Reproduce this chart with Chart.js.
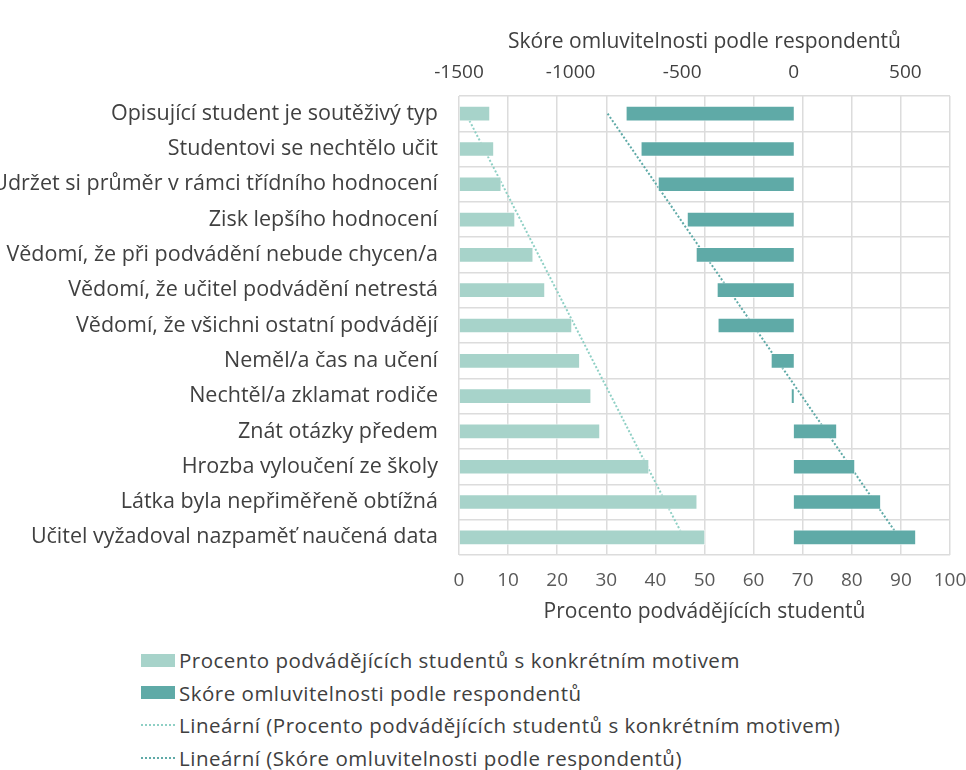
<!DOCTYPE html>
<html>
<head>
<meta charset="utf-8">
<script src="https://cdn.jsdelivr.net/npm/chart.js@4"></script>
<style>
  body { margin: 0; background: #fff; font-family: "Open Sans", sans-serif; }
  #wrap { position: relative; width: 966px; height: 628px; }
  #legend { position: absolute; left: 141px; top: 644px; color: #404040; font-size: 20.5px; letter-spacing: 0.5px; }
  .item { display: flex; align-items: center; height: 32.5px; white-space: nowrap; }
  .box { width: 34px; height: 13px; margin-right: 4px; }
  .dots { width: 34px; height: 0; border-top: 2px dotted; margin-right: 4px; }
</style>
</head>
<body>
<div id="wrap"><canvas id="chart"></canvas></div>
<div id="legend">
  <div class="item"><span class="box" style="background:#a7d3ca"></span>Procento podvádějících studentů s konkrétním motivem</div>
  <div class="item"><span class="box" style="background:#5faaa7"></span>Skóre omluvitelnosti podle respondentů</div>
  <div class="item"><span class="dots" style="border-color:#8fd0c5"></span>Lineární (Procento podvádějících studentů s konkrétním motivem)</div>
  <div class="item"><span class="dots" style="border-color:#5faaa7"></span>Lineární (Skóre omluvitelnosti podle respondentů)</div>
</div>
<script>
var categories = [
  'Opisující student je soutěživý typ',
  'Studentovi se nechtělo učit',
  'Udržet si průměr v rámci třídního hodnocení',
  'Zisk lepšího hodnocení',
  'Vědomí, že při podvádění nebude chycen/a',
  'Vědomí, že učitel podvádění netrestá',
  'Vědomí, že všichni ostatní podvádějí',
  'Neměl/a čas na učení',
  'Nechtěl/a zklamat rodiče',
  'Znát otázky předem',
  'Hrozba vyloučení ze školy',
  'Látka byla nepřiměřeně obtížná',
  'Učitel vyžadoval nazpaměť naučená data'
];
var percentCheating = [6.3, 7.1, 8.6, 11.4, 15.1, 17.5, 23.0, 24.6, 26.9, 28.7, 38.7, 48.5, 50.1];
var excuseScore = [-752, -685, -608, -478, -438, -344, -340, -102, -12, 193, 274, 390, 547];
var bottomTicks = [0, 10, 20, 30, 40, 50, 60, 70, 80, 90, 100];
var topTicks = [-1500, -1000, -500, 0, 500];

// linear trendline like Excel (least squares over category index)
function linearTrend(values) {
  var n = values.length, sx = 0, sy = 0, sxy = 0, sxx = 0;
  values.forEach(function (v, i) {
    var x = i + 1;
    sx += x; sy += v; sxy += x * v; sxx += x * x;
  });
  var b = (n * sxy - sx * sy) / (n * sxx - sx * sx);
  var a = (sy - b * sx) / n;
  return values.map(function (v, i) { return a + b * (i + 1); });
}

var gridColor = '#dcdcdc';
var labelFont = { family: 'Open Sans', size: 21.5 };
var tickFont = { family: 'Open Sans', size: 19 };
var titleFont = { family: 'Open Sans', size: 21 };

var ctx = document.getElementById('chart').getContext('2d');
var chart = new Chart(ctx, {
    data: {
        labels: categories,
        datasets: [{
            type: 'bar',
            label: 'Procento podvádějících studentů s konkrétním motivem',
            data: percentCheating,
            xAxisID: 'x',
            backgroundColor: '#a7d3ca',
            borderColor: 'rgba(255,255,255,0.6)',
            borderWidth: 1,
            barThickness: 15,
            grouped: false,
            order: 1
        }, {
            type: 'bar',
            label: 'Skóre omluvitelnosti podle respondentů',
            data: excuseScore,
            xAxisID: 'x2',
            backgroundColor: '#5faaa7',
            borderColor: 'rgba(255,255,255,0.6)',
            borderWidth: 1,
            barThickness: 15,
            grouped: false,
            order: 1
        }, {
            type: 'line',
            label: 'Lineární (Procento podvádějících studentů s konkrétním motivem)',
            data: linearTrend(percentCheating),
            indexAxis: 'y',
            xAxisID: 'x',
            borderColor: '#8fd0c5',
            borderWidth: 2,
            borderDash: [2, 2],
            pointRadius: 0,
            fill: false,
            order: 2
        }, {
            type: 'line',
            label: 'Lineární (Skóre omluvitelnosti podle respondentů)',
            data: linearTrend(excuseScore),
            indexAxis: 'y',
            xAxisID: 'x2',
            borderColor: '#5faaa7',
            borderWidth: 2,
            borderDash: [2, 2],
            pointRadius: 0,
            fill: false,
            order: 2
        }]
    },
    options: {
        indexAxis: 'y',
        responsive: true,
        maintainAspectRatio: false,
        animation: false,
        layout: { padding: { top: 20, right: 16, left: 0, bottom: 0 } },
        plugins: {
            legend: { display: false },
            tooltip: { enabled: false }
        },
        scales: {
            y: {
                type: 'category',
                position: 'left',
                offset: true,
                grid: { color: gridColor, lineWidth: 1.5, offset: true, drawTicks: false },
                border: { display: false },
                ticks: { color: '#404040', font: labelFont, padding: 21 },
                afterFit: function (scale) { scale.width = 459; }
            },
            x: {
                type: 'linear',
                position: 'bottom',
                min: 0,
                max: 100,
                afterBuildTicks: function (scale) {
                    scale.ticks = bottomTicks.map(function (v) { return { value: v }; });
                },
                afterFit: function (scale) {
                    scale.height = 73;
                    scale.paddingLeft = 0;
                    scale.paddingRight = 0;
                },
                grid: { color: gridColor, lineWidth: 1.5, drawTicks: false },
                border: { display: false },
                ticks: { color: '#595959', font: tickFont, padding: 14.5 },
                title: {
                    display: true,
                    text: 'Procento podvádějících studentů',
                    color: '#404040',
                    font: titleFont,
                    padding: { top: 9, bottom: 3.5 }
                }
            },
            x2: {
                type: 'linear',
                position: 'top',
                min: -1500,
                max: 700,
                afterBuildTicks: function (scale) {
                    scale.ticks = topTicks.map(function (v) { return { value: v }; });
                },
                afterFit: function (scale) {
                    scale.height = 76;
                    scale.paddingLeft = 0;
                    scale.paddingRight = 0;
                },
                grid: { display: false, drawTicks: false },
                border: { display: false },
                ticks: {
                    color: '#404040',
                    font: tickFont,
                    padding: 12.5,
                    callback: function (v) { return String(v); }
                },
                title: {
                    display: true,
                    text: 'Skóre omluvitelnosti podle respondentů',
                    color: '#404040',
                    font: titleFont,
                    padding: { top: 9.5, bottom: 9 }
                }
            }
        }
    }
});
</script>
</body>
</html>
